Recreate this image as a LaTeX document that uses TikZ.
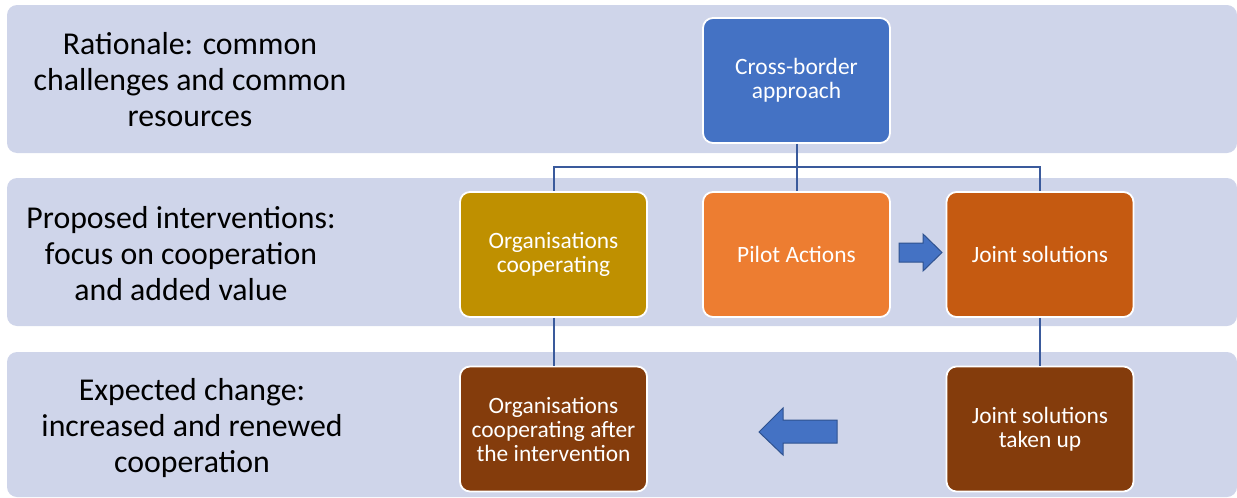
\documentclass[tikz,border=0pt]{standalone}
\usepackage{fontspec}
\setmainfont{Carlito}
\definecolor{band}{HTML}{CFD5EA}
\definecolor{cblue}{HTML}{4472C4}
\definecolor{cgold}{HTML}{BF9000}
\definecolor{corange}{HTML}{ED7D31}
\definecolor{cdorange}{HTML}{C55A11}
\definecolor{cbrown}{HTML}{843C0C}
\definecolor{cline}{HTML}{3A5A9C}
\definecolor{arrowedge}{HTML}{2F528F}
\begin{document}
\begin{tikzpicture}[x=0.5pt,y=-0.5pt,
  bandbox/.style={fill=band, rounded corners=5pt},
  label/.style={align=center, text=black, font=\fontsize{15.9}{18}\selectfont, inner sep=0},
  box/.style={rounded corners=5pt, draw=white, line width=0.9pt, minimum width=93.5pt, minimum height=62.5pt,
              text=white, align=center, font=\fontsize{11.7}{12}\selectfont, inner sep=0},
  conn/.style={draw=cline, line width=1pt},
  blockarrow/.style={fill=cblue, draw=arrowedge, line width=0.5pt}]
\useasboundingbox (0,0) rectangle (1237,498);
% bands
\fill[bandbox] (7,5) rectangle (1237,153);
\fill[bandbox] (7,178) rectangle (1237,326);
\fill[bandbox] (7,352) rectangle (1237,497);
% band labels
\node[label] (l1) at (190,80) {Rationale: common\\challenges and common\\resources};
\node[label] (l2) at (181,254) {Proposed interventions:\\focus on cooperation\\and added value};
\node[label] (l3) at (192,428) {Expected change:\\increased and renewed\\cooperation};
% boxes
\coordinate (hub) at (796.5,167);
\node[box, fill=cblue] (cross) at (796.5,80.5) {Cross-border\\approach};
\node[box, fill=cgold] (orgc) at (553.5,254.5) {Organisations\\cooperating};
\node[box, fill=corange] (pilot) at (796.5,254.5) {Pilot Actions};
\node[box, fill=cdorange] (joint) at (1040,254.5) {Joint solutions};
\node[box, fill=cbrown] (orga) at (553.5,429) {Organisations\\cooperating after\\the intervention};
\node[box, fill=cbrown] (jointup) at (1040,429) {Joint solutions\\taken up};
% connectors
\draw[conn] (cross.south) -- (hub);
\draw[conn] (hub) -| (orgc.north);
\draw[conn] (hub) -| (joint.north);
\draw[conn] (hub) -- (pilot.north);
\draw[conn] (orgc.south) -- (orga.north);
\draw[conn] (joint.south) -- (jointup.north);
% block arrows
\draw[blockarrow] (899,243) -- (923,243) -- (923,234) -- (942,252.5) -- (923,271) -- (923,262) -- (899,262) -- cycle;
\draw[blockarrow] (837,420) -- (783,420) -- (783,408) -- (759,432) -- (783,455) -- (783,443) -- (837,443) -- cycle;
\end{tikzpicture}
\end{document}
